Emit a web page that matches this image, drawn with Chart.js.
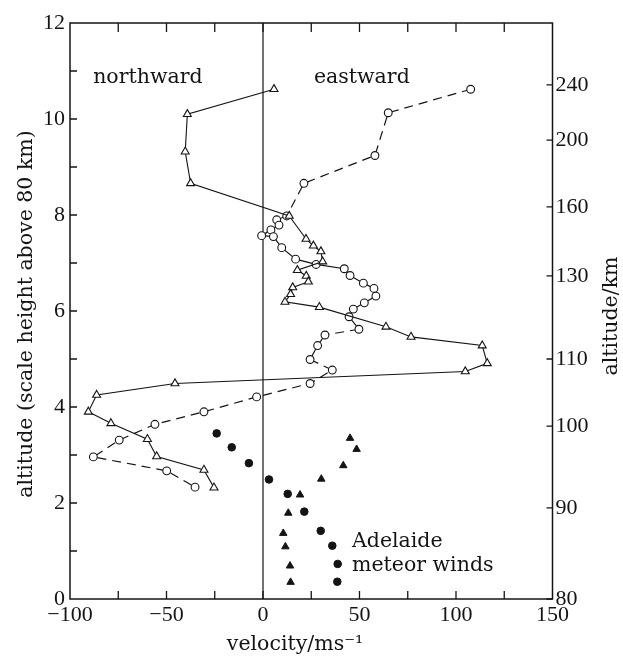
<!DOCTYPE html>
<html><head><meta charset="utf-8">
<script src="https://cdn.jsdelivr.net/npm/chart.js@4/dist/chart.umd.min.js"></script>
<style>html,body{margin:0;padding:0;background:#fff}#wrap{width:623px;height:657px;position:relative}</style>
</head><body><div id="wrap"><canvas id="c"></canvas></div>
<script>
// ---- data (velocity m/s, altitude in scale heights above 80 km) ----
const northVel = [5.7,-39.2,-40.3,-37.5,13.6,22.3,26.1,30,30.9,17.8,22.4,23.5,15.4,14.3,11.4,29.2,63.7,76.7,113.6,116.2,104.8,-45.6,-86.2,-90.5,-78.8,-59.9,-55.1,-30.6,-25.4];
const northAlt = [10.62,10.1,9.32,8.66,7.98,7.5,7.36,7.24,7.03,6.85,6.73,6.61,6.49,6.35,6.19,6.08,5.67,5.46,5.28,4.91,4.74,4.49,4.25,3.9,3.66,3.33,2.97,2.69,2.32];
const eastVel = [107.6,64.9,58,21.2,12.3,7.1,8.3,4.1,-0.7,5.4,9.7,16.9,27.5,42.1,45.1,52,57.5,58.5,52.5,46.8,44.6,49.7,32.1,28.3,24.4,35.9,24.4,-3.3,-30.6,-56,-74.5,-87.9,-49.9,-35.2];
const eastAlt = [10.62,10.13,9.24,8.66,7.98,7.9,7.79,7.69,7.57,7.55,7.32,7.08,6.97,6.88,6.74,6.58,6.47,6.31,6.17,6.04,5.88,5.62,5.5,5.28,4.99,4.77,4.49,4.21,3.9,3.64,3.31,2.96,2.67,2.33];
const meteorNorthVel = [45.1,48.5,41.6,30.2,19.2,13.1,10.5,11.6,14,14.3];
const meteorNorthAlt = [3.35,3.12,2.78,2.5,2.17,1.79,1.37,1.09,0.69,0.35];
const meteorEastVel = [-24,-16.2,-7.3,3.1,12.8,21.4,29.9,35.9,38.7,38.5];
const meteorEastAlt = [3.45,3.16,2.83,2.49,2.19,1.82,1.42,1.11,0.73,0.36];
// right-hand axis: altitude in km and its position in scale heights
const altKmLabels = ['80','90','100','110','130','160','200','240'];
const altKmPos = [0,1.9,3.6,5.0,6.73,8.17,9.56,10.71];
const xTickValues = [-100,-50,0,50,100,150];
const yTickValues = [0,2,4,6,8,10,12];
// style: which segments of the eastward profile are dashed
const eastDashedSegments = [0,1,2,3,21,24,25,26,27,28,29,30,31,32];

const INK = '#141414';
const pts = (xs, ys) => xs.map((x, i) => ({x: x, y: ys[i]}));
const tickFont = {family: 'Liberation Serif', size: 22};
const textFont = '20.5px "DejaVu Serif"';

const decor = {
  id: 'decor',
  beforeDatasetsDraw(chart) {
    const {ctx, chartArea: a, scales} = chart;
    const xs = scales.x, ys = scales.y;
    ctx.save();
    ctx.strokeStyle = INK;
    ctx.lineWidth = 1.5;
    ctx.strokeRect(a.left, a.top, a.right - a.left, a.bottom - a.top);
    // zero line
    ctx.lineWidth = 1.2;
    const x0 = xs.getPixelForValue(0);
    ctx.beginPath(); ctx.moveTo(x0, a.top); ctx.lineTo(x0, a.bottom); ctx.stroke();
    // inward ticks
    ctx.lineWidth = 1.3;
    ctx.beginPath();
    for (let v = -75; v < 150; v += 25) {
      const px = xs.getPixelForValue(v);
      ctx.moveTo(px, a.bottom); ctx.lineTo(px, a.bottom - 8);
      ctx.moveTo(px, a.top); ctx.lineTo(px, a.top + 9);
    }
    for (let v = 1; v < 12; v++) {
      const py = ys.getPixelForValue(v);
      ctx.moveTo(a.left, py); ctx.lineTo(a.left + 7, py);
    }
    altKmPos.forEach(v => {
      const py = ys.getPixelForValue(v);
      ctx.moveTo(a.right, py); ctx.lineTo(a.right - 6, py);
    });
    ctx.stroke();
    ctx.restore();
  },
  afterDraw(chart) {
    const {ctx, chartArea: a, scales} = chart;
    const xs = scales.x, ys = scales.y;
    ctx.save();
    ctx.fillStyle = INK;
    ctx.font = textFont;
    ctx.textAlign = 'left';
    ctx.textBaseline = 'alphabetic';
    const put = (t, vx, vy) => ctx.fillText(t, xs.getPixelForValue(vx), ys.getPixelForValue(vy));
    put('northward', -88, 10.75);
    put('eastward', 26.4, 10.75);
    put('Adelaide', 46.1, 1.09);
    put('meteor winds', 46.1, 0.59);
    // axis titles
    ctx.textAlign = 'center';
    ctx.fillText('velocity/ms\u207B\u00B9', 295, 650);
    ctx.textBaseline = 'middle';
    ctx.save(); ctx.translate(27, 314); ctx.rotate(-Math.PI / 2);
    ctx.fillText('altitude (scale height above 80 km)', 0, 0); ctx.restore();
    ctx.save(); ctx.translate(612, 316); ctx.rotate(-Math.PI / 2);
    ctx.fillText('altitude/km', 0, 0); ctx.restore();
    ctx.restore();
  }
};

new Chart(document.getElementById('c'), {
  type: 'scatter',
  data: {
    datasets: [
      {
        label: 'northward', data: pts(northVel, northAlt), showLine: true,
        borderColor: INK, borderWidth: 1.1, pointStyle: 'triangle', pointRadius: 4.6,
        pointBackgroundColor: '#fff', pointBorderColor: INK, pointBorderWidth: 1.1
      },
      {
        label: 'eastward', data: pts(eastVel, eastAlt), showLine: true,
        borderColor: INK, borderWidth: 1.2, pointStyle: 'circle', pointRadius: 3.9,
        pointBackgroundColor: '#fff', pointBorderColor: INK, pointBorderWidth: 1.1,
        segment: { borderDash: c => eastDashedSegments.includes(c.p0DataIndex) ? [9, 6] : [] }
      },
      {
        label: 'meteor north', data: pts(meteorNorthVel, meteorNorthAlt), showLine: false,
        pointStyle: 'triangle', pointRadius: 4.3, pointBackgroundColor: INK, pointBorderColor: INK, pointBorderWidth: 1
      },
      {
        label: 'meteor east', data: pts(meteorEastVel, meteorEastAlt), showLine: false,
        pointStyle: 'circle', pointRadius: 3.8, pointBackgroundColor: INK, pointBorderColor: INK, pointBorderWidth: 1
      }
    ]
  },
  options: {
    responsive: true, maintainAspectRatio: false, animation: false,
    layout: {padding: {top: 23, left: 0, right: 0, bottom: 0}},
    plugins: {legend: {display: false}, tooltip: {enabled: false}},
    scales: {
      x: {
        type: 'linear', min: -100, max: 150,
        afterBuildTicks: s => { s.ticks = xTickValues.map(v => ({value: v})); },
        afterFit: s => { s.height = 58; },
        grid: {display: false, drawTicks: false}, border: {display: false},
        ticks: {color: INK, font: tickFont, padding: 3, maxRotation: 0, autoSkip: false,
          callback: v => String(v).replace('-', '\u2212')}
      },
      y: {
        type: 'linear', position: 'left', min: 0, max: 12,
        afterBuildTicks: s => { s.ticks = yTickValues.map(v => ({value: v})); },
        afterFit: s => { s.width = 70; },
        grid: {display: false, drawTicks: false}, border: {display: false},
        ticks: {color: INK, font: tickFont, padding: 5, autoSkip: false}
      },
      y2: {
        type: 'linear', position: 'right', min: 0, max: 12,
        afterBuildTicks: s => { s.ticks = altKmPos.map(v => ({value: v})); },
        afterFit: s => { s.width = 70.5; },
        grid: {display: false, drawTicks: false}, border: {display: false},
        ticks: {color: INK, font: tickFont, padding: 3, autoSkip: false,
          callback: (v, i) => altKmLabels[i]}
      }
    }
  },
  plugins: [decor]
});
</script>
</body></html>
